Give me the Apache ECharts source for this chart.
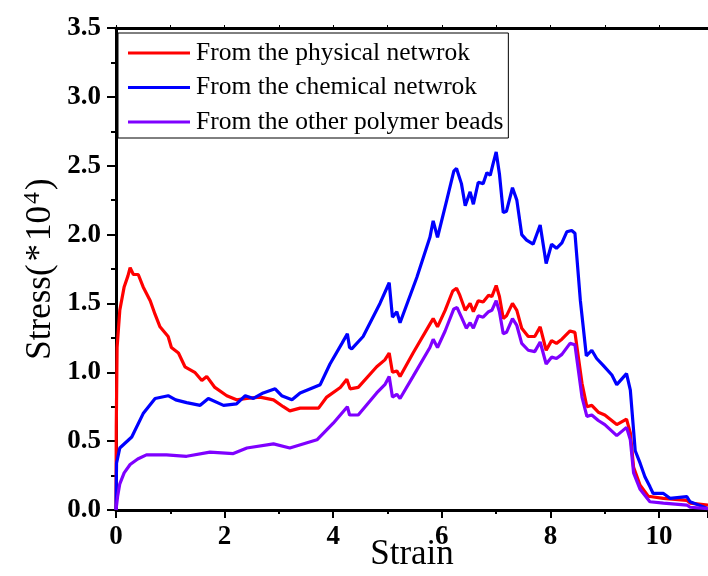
<!DOCTYPE html>
<html>
<head>
<meta charset="utf-8">
<script src="https://cdn.jsdelivr.net/npm/echarts@6/dist/echarts.min.js"></script>
<style>html,body{margin:0;padding:0;background:#fff}#c{width:708px;height:576px}</style>
</head>
<body>
<div id="c"></div>
<script>
const seriesNames = ['From the physical netwrok', 'From the chemical netwrok', 'From the other polymer beads'];
const yTicks = [0, 0.5, 1, 1.5, 2, 2.5, 3, 3.5];
const xTicks = [0, 2, 4, 6, 8, 10];

const physical = [[0,0],[0.005,0.6],[0.02,1.18],[0.07,1.45],[0.15,1.62],[0.22,1.7],[0.26,1.76],[0.32,1.71],[0.41,1.71],[0.5,1.62],[0.63,1.52],[0.72,1.42],[0.81,1.33],[0.96,1.26],[1.02,1.18],[1.15,1.14],[1.27,1.04],[1.45,1.0],[1.58,0.94],[1.67,0.97],[1.82,0.89],[2.04,0.83],[2.22,0.8],[2.41,0.81],[2.65,0.82],[2.9,0.8],[3.08,0.75],[3.2,0.72],[3.39,0.74],[3.73,0.74],[3.88,0.82],[4.13,0.89],[4.25,0.95],[4.31,0.88],[4.46,0.89],[4.8,1.04],[4.95,1.09],[5.03,1.14],[5.09,1.0],[5.17,1.01],[5.23,0.97],[5.47,1.14],[5.78,1.35],[5.84,1.39],[5.92,1.33],[6.06,1.45],[6.2,1.59],[6.27,1.61],[6.33,1.56],[6.43,1.45],[6.52,1.5],[6.58,1.44],[6.67,1.52],[6.76,1.51],[6.86,1.56],[6.92,1.55],[7.0,1.63],[7.06,1.55],[7.13,1.39],[7.19,1.41],[7.3,1.5],[7.38,1.45],[7.47,1.32],[7.59,1.26],[7.71,1.26],[7.81,1.33],[7.92,1.16],[8.02,1.23],[8.11,1.21],[8.21,1.24],[8.36,1.3],[8.45,1.29],[8.58,0.92],[8.67,0.75],[8.76,0.76],[8.88,0.71],[9.0,0.69],[9.22,0.62],[9.4,0.66],[9.47,0.56],[9.53,0.31],[9.65,0.18],[9.8,0.1],[10.08,0.085],[10.51,0.07],[10.57,0.05],[10.9,0.035]];

const chemical = [[0,0],[0.01,0.34],[0.07,0.45],[0.29,0.53],[0.5,0.7],[0.72,0.81],[0.96,0.83],[1.1,0.8],[1.3,0.78],[1.55,0.76],[1.7,0.81],[1.98,0.76],[2.22,0.77],[2.38,0.83],[2.53,0.81],[2.71,0.85],[2.93,0.88],[3.05,0.83],[3.24,0.8],[3.39,0.85],[3.76,0.91],[3.94,1.06],[4.16,1.21],[4.26,1.28],[4.3,1.18],[4.34,1.17],[4.55,1.26],[4.86,1.5],[5.03,1.65],[5.09,1.4],[5.17,1.44],[5.23,1.36],[5.54,1.69],[5.78,1.98],[5.84,2.1],[5.92,1.98],[6.09,2.25],[6.22,2.46],[6.27,2.48],[6.36,2.37],[6.43,2.21],[6.52,2.31],[6.58,2.22],[6.67,2.38],[6.76,2.37],[6.83,2.45],[6.89,2.43],[6.94,2.51],[7.0,2.6],[7.06,2.44],[7.13,2.16],[7.19,2.17],[7.3,2.34],[7.38,2.25],[7.47,2.0],[7.56,1.96],[7.68,1.93],[7.81,2.07],[7.92,1.79],[8.02,1.93],[8.11,1.9],[8.21,1.94],[8.3,2.02],[8.39,2.03],[8.45,2.01],[8.55,1.52],[8.66,1.12],[8.76,1.16],[8.85,1.1],[8.97,1.05],[9.13,0.98],[9.22,0.91],[9.4,0.99],[9.47,0.87],[9.56,0.43],[9.65,0.34],[9.74,0.24],[9.83,0.17],[9.89,0.12],[10.08,0.12],[10.2,0.085],[10.51,0.097],[10.57,0.06],[10.9,0.01]];

const otherBeads = [[0,0],[0.03,0.1],[0.07,0.19],[0.15,0.27],[0.26,0.33],[0.4,0.37],[0.56,0.4],[0.93,0.4],[1.3,0.39],[1.73,0.42],[2.16,0.41],[2.41,0.45],[2.9,0.48],[3.2,0.45],[3.7,0.51],[4.0,0.63],[4.26,0.75],[4.3,0.69],[4.46,0.69],[4.8,0.85],[4.95,0.91],[5.03,0.97],[5.09,0.82],[5.17,0.84],[5.23,0.81],[5.47,0.97],[5.78,1.18],[5.84,1.24],[5.92,1.18],[6.06,1.3],[6.22,1.46],[6.28,1.47],[6.36,1.4],[6.45,1.32],[6.52,1.36],[6.58,1.32],[6.67,1.41],[6.76,1.4],[6.86,1.44],[6.92,1.45],[7.0,1.52],[7.06,1.44],[7.13,1.28],[7.19,1.29],[7.3,1.39],[7.38,1.34],[7.47,1.21],[7.59,1.16],[7.71,1.15],[7.81,1.22],[7.92,1.06],[8.02,1.11],[8.11,1.1],[8.21,1.13],[8.36,1.21],[8.45,1.2],[8.58,0.82],[8.67,0.68],[8.76,0.69],[8.88,0.65],[9.0,0.62],[9.22,0.54],[9.4,0.6],[9.47,0.51],[9.53,0.27],[9.65,0.15],[9.83,0.06],[10.08,0.05],[10.51,0.036],[10.57,0.02],[10.9,0.01]];

const colors = ['#ff0000', '#0000ff', '#7f00ff'];
const serif = '"Liberation Serif", "Times New Roman", serif';

const chart = echarts.init(document.getElementById('c'), null, {renderer: 'canvas'});
const datasets = [physical, chemical, otherBeads];
chart.setOption({
  animation: false,
  backgroundColor: '#fff',
  grid: {left: 116, right: 0, top: 28, bottom: 66, containLabel: false, outerBoundsMode: 'none'},
  legend: {
    data: seriesNames,
    orient: 'vertical',
    left: 118, top: 33,
    padding: [7, 5, 3, 10],
    itemGap: 8.5,
    icon: 'rect',
    itemWidth: 62, itemHeight: 3,
    borderColor: '#000', borderWidth: 1,
    textStyle: {fontFamily: serif, fontSize: 25.5, color: '#000', padding: [0, 0, 0, 1]}
  },
  xAxis: [{
    type: 'value', min: 0, max: 10.9, interval: 2, position: 'bottom',
    name: 'Strain', nameLocation: 'middle', nameGap: 27, nameMoveOverlap: false,
    nameTextStyle: {fontFamily: serif, fontSize: 35, color: '#000'},
    axisLine: {show: true, onZero: false, lineStyle: {color: '#000', width: 3}},
    axisTick: {show: true, inside: false, length: 8, lineStyle: {color: '#000', width: 2}},
    minorTick: {show: true, splitNumber: 2, length: 4, lineStyle: {color: '#000', width: 2}},
    axisLabel: {show: true, margin: 14, showMaxLabel: false, fontFamily: serif, fontWeight: 'bold', fontSize: 27, color: '#000',
      formatter: v => (xTicks.indexOf(v) >= 0 ? String(v) : '')},
    splitLine: {show: false}
  }, {
    type: 'value', min: 0, max: 10.9, interval: 1, position: 'top',
    axisLine: {show: true, onZero: false, lineStyle: {color: '#000', width: 3}},
    axisTick: {show: true, inside: false, length: 3, lineStyle: {color: '#000', width: 1}},
    axisLabel: {show: false}, splitLine: {show: false}
  }],
  yAxis: {
    type: 'value', min: 0, max: 3.5, interval: 0.5,
    name: '{a|Stress(}{b|*}{a|10}{s|4}{a|)}', nameLocation: 'middle', nameGap: 55, nameRotate: 90, nameMoveOverlap: false,
    nameTextStyle: {
      color: '#000',
      rich: {
        a: {fontFamily: serif, fontSize: 35, color: '#000', lineHeight: 40},
        b: {fontFamily: serif, fontSize: 35, color: '#000', lineHeight: 40, padding: [0, 3, 0, 3]},
        s: {fontFamily: serif, fontSize: 24, color: '#000', verticalAlign: 'top', lineHeight: 40, padding: [0, 2, 0, 2]}
      }
    },
    axisLine: {show: true, onZero: false, lineStyle: {color: '#000', width: 3}},
    axisTick: {show: true, inside: false, length: 9, lineStyle: {color: '#000', width: 2}},
    minorTick: {show: true, splitNumber: 2, length: 5, lineStyle: {color: '#000', width: 2}},
    axisLabel: {margin: 15, fontFamily: serif, fontWeight: 'bold', fontSize: 27, color: '#000',
      formatter: v => (yTicks.indexOf(v) >= 0 ? v.toFixed(1) : '')},
    splitLine: {show: false}
  },
  series: seriesNames.map((n, i) => ({
    name: n, type: 'line', data: datasets[i], showSymbol: false, symbol: 'none',
    xAxisIndex: 0, z: 3 + (i === 1 ? 0 : i),
    lineStyle: {color: colors[i], width: 3.2}, itemStyle: {color: colors[i]}
  }))
});
</script>
</body>
</html>
